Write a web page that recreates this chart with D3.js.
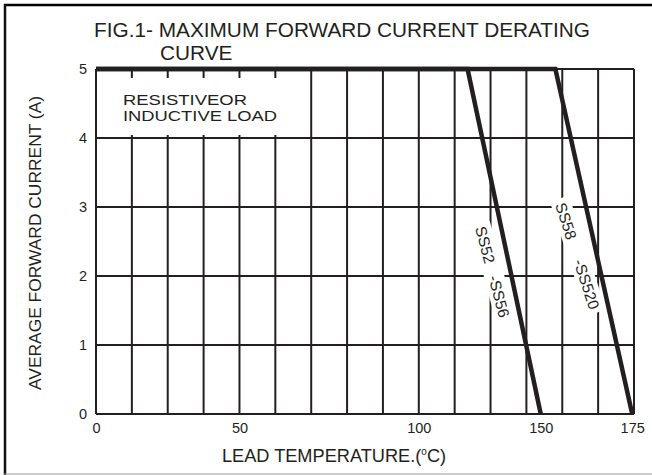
<!DOCTYPE html>
<html lang="en"><head><meta charset="utf-8">
<script type="text/javascript" src="https://cdn.jsdelivr.net/npm/d3@7"></script>
<style>
  body { margin: 0; background: #fff; }
  text { font-family: "Liberation Sans", Arial, sans-serif; fill: #231f20; }
</style>
</head>
<body>
<script type="text/javascript">
// derating curve, values
var xTicks = [0, 50, 100, 150, 175];
var xTickGrid = [0, 4, 9, 12.4, 14.95];   // where each label sits on the 15-division grid
var yTicks = [0, 1, 2, 3, 4, 5];
var gridCols = 15;

var ss52Temp = [0, 120, 150];
var ss52Amps = [5, 5, 0];
var ss58Temp = [0, 154, 175];
var ss58Amps = [5, 5, 0];

var width = 652;
var height = 475;
var ink = "#231f20";

var svg = d3.select("body").append("svg")
    .attr("width", width)
    .attr("height", height);

svg.append("rect").attr("width", width).attr("height", height).attr("fill", "#fff");

// outer frame
svg.append("line").attr("x1", 4).attr("x2", width).attr("y1", 5).attr("y2", 5)
    .attr("stroke", "#000").attr("stroke-width", 2.5);
svg.append("line").attr("x1", 5).attr("x2", 5).attr("y1", 4).attr("y2", height)
    .attr("stroke", "#111").attr("stroke-width", 2.5);
svg.append("line").attr("x1", 4).attr("x2", width).attr("y1", 474).attr("y2", 474)
    .attr("stroke", "#999").attr("stroke-width", 1);

var plotLeft = 96, plotRight = 634, plotTop = 69, plotBottom = 414;

var gx = d3.scaleLinear().domain([0, gridCols]).range([plotLeft, plotRight]);
var x = d3.scaleLinear().domain(xTicks).range(xTickGrid.map(gx));
var y = d3.scaleLinear().domain([0, 5]).range([plotBottom, plotTop]);

// grid
var grid = svg.append("g").attr("stroke", ink).attr("stroke-width", 2);
grid.selectAll(".v").data(d3.range(0, gridCols + 1)).enter()
    .append("line")
    .attr("x1", d => gx(d)).attr("x2", d => gx(d))
    .attr("y1", plotTop).attr("y2", plotBottom);
grid.selectAll(".h").data(yTicks).enter()
    .append("line")
    .attr("x1", plotLeft).attr("x2", plotRight)
    .attr("y1", d => y(d)).attr("y2", d => y(d));

// axes (labels only, the grid is the frame)
var xAxis = d3.axisBottom(x).tickValues(xTicks).tickSize(0).tickPadding(9);
svg.append("g").attr("transform", "translate(0," + plotBottom + ")").call(xAxis)
    .call(g => g.select(".domain").remove())
    .selectAll("text").attr("font-size", 14.5).attr("font-family", null).attr("fill", ink);

var yAxis = d3.axisLeft(y).tickValues(yTicks).tickFormat(d3.format("d")).tickSize(0).tickPadding(9);
svg.append("g").attr("transform", "translate(" + plotLeft + ",0)").call(yAxis)
    .call(g => g.select(".domain").remove())
    .selectAll("text").attr("font-size", 14.5).attr("font-family", null).attr("fill", ink);

// note box
svg.append("rect").attr("x", plotLeft + 1.5).attr("y", 78).attr("width", 203).attr("height", 57).attr("fill", "#fff");
var note = svg.append("text").attr("x", 123).attr("font-size", 14.5);
note.append("tspan").attr("x", 123).attr("y", 104.5)
    .attr("textLength", 124).attr("lengthAdjust", "spacingAndGlyphs").text("RESISTIVEOR");
note.append("tspan").attr("x", 123).attr("y", 121)
    .attr("textLength", 154).attr("lengthAdjust", "spacingAndGlyphs").text("INDUCTIVE LOAD");

// curves
var line = d3.line().x(d => x(d[0])).y(d => y(d[1]));
[[ss52Temp, ss52Amps], [ss58Temp, ss58Amps]].forEach(function(s) {
    svg.append("path")
        .datum(d3.zip(s[0], s[1]))
        .attr("d", line)
        .attr("fill", "none")
        .attr("stroke", ink)
        .attr("stroke-width", 4.5);
});

// rotated curve labels
function curveLabel(cx, cy, angle, label, w) {
    var g = svg.append("g").attr("transform", "translate(" + cx + "," + cy + ") rotate(" + angle + ")");
    g.append("rect").attr("x", -w / 2).attr("y", -11).attr("width", w).attr("height", 20).attr("fill", "#fff");
    g.append("text").attr("text-anchor", "middle").attr("dy", 5).attr("font-size", 15.5)
        .style("white-space", "pre").text(label);
}
curveLabel(492, 272, 75, "SS52   -SS56", 100);
curveLabel(577, 256, 72, "SS58     -SS520", 120);

// titles
svg.append("text").attr("x", 94).attr("y", 37).attr("font-size", 20.8)
    .text("FIG.1- MAXIMUM FORWARD CURRENT DERATING");
svg.append("text").attr("x", 160).attr("y", 60).attr("font-size", 20.8).text("CURVE");

var xl = svg.append("text").attr("x", 334).attr("y", 462).attr("text-anchor", "middle").attr("font-size", 18.2);
xl.append("tspan").text("LEAD TEMPERATURE.(");
xl.append("tspan").attr("font-size", 10).attr("dy", -7).text("o");
xl.append("tspan").attr("dy", 7).text("C)");

svg.append("text").attr("transform", "translate(41,243) rotate(-90)")
    .attr("text-anchor", "middle").attr("font-size", 17.4)
    .text("AVERAGE FORWARD CURRENT (A)");
</script>
</body></html>
